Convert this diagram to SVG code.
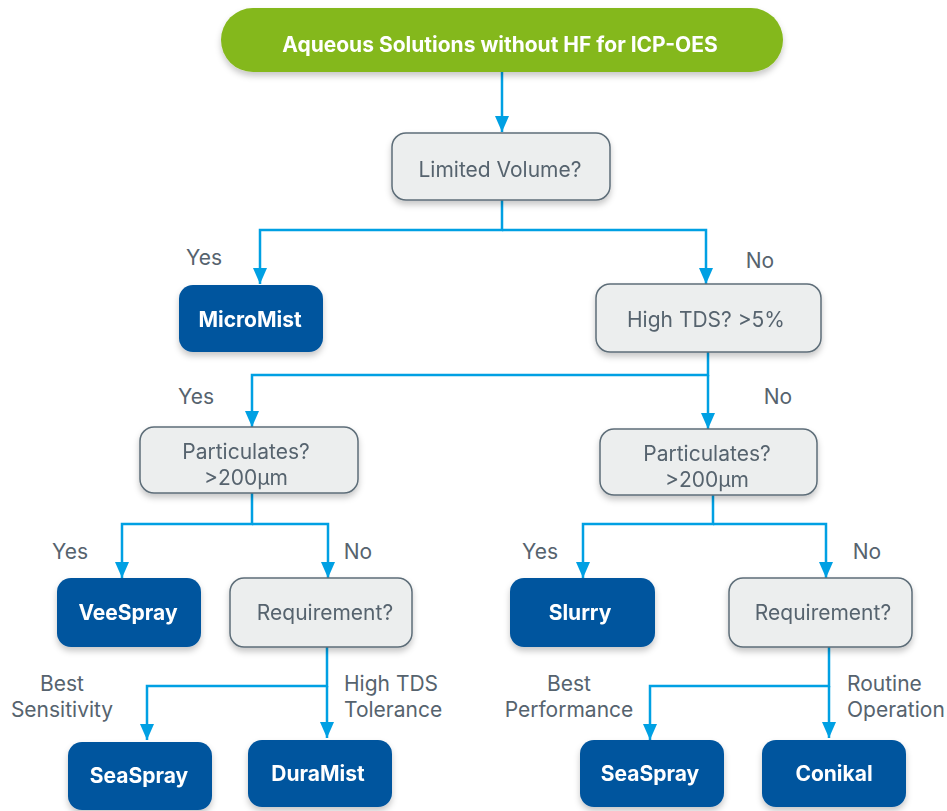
<svg xmlns="http://www.w3.org/2000/svg" width="947" height="811" viewBox="0 0 947 811">
<defs>
<filter id="sh" x="-10%" y="-10%" width="120%" height="140%">
<feDropShadow dx="0" dy="4" stdDeviation="3" flood-color="#000" flood-opacity="0.22"/>
</filter>
<marker id="ar" markerWidth="16" markerHeight="14" refX="16" refY="7" orient="auto" markerUnits="userSpaceOnUse" viewBox="0 0 16 14">
<path d="M0,0 L16,7 L0,14 Z" fill="#00a0e3"/>
</marker>
<style>
.q rect{fill:#eceeee;stroke:#5d6d78;stroke-width:1.5}
.r rect{fill:#00559e}
.s rect{fill:#84b81b}
.q text{font-family:Inter,"Noto Sans",sans-serif;font-size:21px;fill:#56636e;text-anchor:middle}
.r text,.s text{font-family:Inter,"Noto Sans",sans-serif;font-size:21px;font-weight:bold;fill:#fff;text-anchor:middle}
.lbl{font-family:Inter,"Noto Sans",sans-serif;font-size:21px;fill:#56636e}
.c path{fill:none;stroke:#00a0e3;stroke-width:2.5}
</style>
</defs>
<g class="c" id="connectors">
<path d="M502,72 V132" marker-end="url(#ar)"/>
<path d="M502,200 V230 H260 V284" marker-end="url(#ar)"/>
<path d="M502,230 H706 V284" marker-end="url(#ar)"/>
<path d="M708,352 V375 H252 V427" marker-end="url(#ar)"/>
<path d="M708,375 V429" marker-end="url(#ar)"/>
<path d="M252,493 V524 H122 V578" marker-end="url(#ar)"/>
<path d="M252,524 H328 V578" marker-end="url(#ar)"/>
<path d="M713,495 V524 H583 V578" marker-end="url(#ar)"/>
<path d="M713,524 H826 V578" marker-end="url(#ar)"/>
<path d="M327,647 V686 H147 V740" marker-end="url(#ar)"/>
<path d="M327,686 V738" marker-end="url(#ar)"/>
<path d="M829,647 V686 H650 V740" marker-end="url(#ar)"/>
<path d="M829,686 V738" marker-end="url(#ar)"/>
</g>
<g id="labels" class="lbl">
<text x="204" y="265" text-anchor="middle">Yes</text>
<text x="760" y="268" text-anchor="middle">No</text>
<text x="196" y="404" text-anchor="middle">Yes</text>
<text x="778" y="404" text-anchor="middle">No</text>
<text x="70" y="559" text-anchor="middle">Yes</text>
<text x="358" y="559" text-anchor="middle">No</text>
<text x="540" y="559" text-anchor="middle">Yes</text>
<text x="867" y="559" text-anchor="middle">No</text>
<text x="62" y="691" text-anchor="middle">Best</text>
<text x="62" y="717" text-anchor="middle">Sensitivity</text>
<text x="344" y="691">High TDS</text>
<text x="344" y="717">Tolerance</text>
<text x="569" y="691" text-anchor="middle">Best</text>
<text x="569" y="717" text-anchor="middle">Performance</text>
<text x="847" y="691">Routine</text>
<text x="847" y="717">Operation</text>
</g>
<g id="start" class="s" filter="url(#sh)">
<rect x="221" y="8" width="562" height="64" rx="32"/>
<text x="500" y="52">Aqueous Solutions without HF for ICP-OES</text>
</g>
<g id="limited" class="q" filter="url(#sh)">
<rect x="392" y="133" width="218" height="67" rx="14"/>
<text x="500" y="177">Limited Volume?</text>
</g>
<g id="micromist" class="r" filter="url(#sh)">
<rect x="179" y="285" width="144" height="67" rx="14"/>
<text x="250" y="327">MicroMist</text>
</g>
<g id="hightds" class="q" filter="url(#sh)">
<rect x="596" y="284" width="225" height="68" rx="14"/>
<text x="706" y="327">High TDS? &gt;5%</text>
</g>
<g id="part1" class="q" filter="url(#sh)">
<rect x="140" y="427" width="218" height="66" rx="14"/>
<text x="246" y="459">Particulates?</text>
<text x="246" y="485">&gt;200µm</text>
</g>
<g id="part2" class="q" filter="url(#sh)">
<rect x="600" y="429" width="217" height="66" rx="14"/>
<text x="707" y="461">Particulates?</text>
<text x="707" y="487">&gt;200µm</text>
</g>
<g id="veespray" class="r" filter="url(#sh)">
<rect x="57" y="578" width="144" height="69" rx="14"/>
<text x="128" y="620">VeeSpray</text>
</g>
<g id="req1" class="q" filter="url(#sh)">
<rect x="230" y="578" width="182" height="69" rx="14"/>
<text x="325" y="620">Requirement?</text>
</g>
<g id="slurry" class="r" filter="url(#sh)">
<rect x="510" y="578" width="145" height="69" rx="14"/>
<text x="580" y="620">Slurry</text>
</g>
<g id="req2" class="q" filter="url(#sh)">
<rect x="729" y="578" width="183" height="69" rx="14"/>
<text x="823" y="620">Requirement?</text>
</g>
<g id="seaspray1" class="r" filter="url(#sh)">
<rect x="68" y="742" width="144" height="68" rx="14"/>
<text x="139" y="783">SeaSpray</text>
</g>
<g id="duramist" class="r" filter="url(#sh)">
<rect x="248" y="740" width="144" height="67" rx="14"/>
<text x="318" y="781">DuraMist</text>
</g>
<g id="seaspray2" class="r" filter="url(#sh)">
<rect x="580" y="740" width="144" height="67" rx="14"/>
<text x="650" y="781">SeaSpray</text>
</g>
<g id="conikal" class="r" filter="url(#sh)">
<rect x="762" y="740" width="144" height="67" rx="14"/>
<text x="834" y="781">Conikal</text>
</g>
</svg>
